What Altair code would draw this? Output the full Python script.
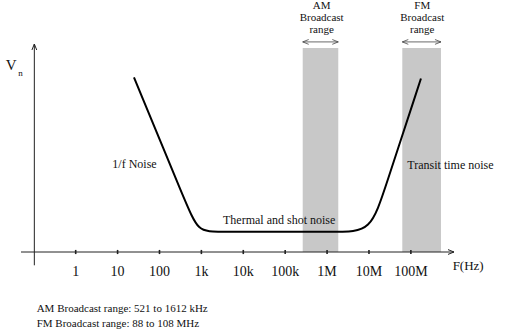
import altair as alt
import pandas as pd

FONT = "Liberation Serif"
INK = "#111111"

# ---- data ----
# noise curve control points (frequency in Hz, relative noise voltage)
curve_f = [24.6, 429, 848, 2230, 2.03e6, 1.10e7, 2.41e7, 1.74e8]
curve_v = [84.0, 23.4, 9.7, 9.7, 9.7, 9.7, 30.6, 83.4]

# broadcast bands (as drawn)
band_names = ["AM", "FM"]
band_lo = [2.62e5, 6.24e7]
band_hi = [1.85e6, 5.23e8]
band_top = 98.1
arrow_v = 101

# axis ticks
tick_values = [1, 10, 100, 1e3, 1e4, 1e5, 1e6, 1e7, 1e8]
tick_labels = ["1", "10", "100", "1k", "10k", "100k", "1M", "10M", "100M"]
tick_label_v = -9.6

# axis extents
x_start, x_end = 0.0495, 1.07e9
y_axis_f = 0.103
y_start, y_end = -6.4, 100

# annotations (centered)
ann_text = ["V", "n", "1/f Noise", "Thermal and shot noise", "Transit time noise",
            "AM", "Broadcast", "range", "FM", "Broadcast", "range", "F(Hz)"]
ann_f = [0.029, 0.0482, 25.3, 71900, 8.81e8,
         7.43e5, 7.43e5, 7.43e5, 1.87e8, 1.87e8, 1.87e8, 2.33e9]
ann_v = [87.4, 84.6, 40.2, 13.7, 40.0,
         116.9, 111.2, 105.4, 116.9, 111.2, 105.4, -8.7]
ann_size = [15, 9, 12, 12, 12, 11, 11, 11, 11, 11, 11, 13]

# footnotes (left aligned)
note_text = ["AM Broadcast range: 521 to 1612 kHz", "FM Broadcast range: 88 to 108 MHz"]
note_f = [0.117, 0.117]
note_v = [-27.6, -34.8]

# ---- build ----
xs = alt.Scale(type="log", domain=[x_start, x_end], nice=False)
ys = alt.Scale(domain=[0, 100], nice=False, zero=False)

curve_df = pd.DataFrame({"f": curve_f, "v": curve_v})
band_df = pd.DataFrame({"name": band_names, "lo": band_lo, "hi": band_hi,
                        "top": [band_top] * 2, "bot": [0] * 2, "av": [arrow_v] * 2})
tick_df = pd.DataFrame({"f": tick_values, "label": tick_labels,
                        "lv": [tick_label_v] * len(tick_values),
                        "a": [-1] * len(tick_values), "b": [1] * len(tick_values)})
ann_df = pd.DataFrame({"t": ann_text, "f": ann_f, "v": ann_v, "s": ann_size})
note_df = pd.DataFrame({"t": note_text, "f": note_f, "v": note_v})
xaxis_df = pd.DataFrame({"f0": [x_start], "f1": [x_end], "v": [0]})
yaxis_df = pd.DataFrame({"f": [y_axis_f], "v0": [y_start], "v1": [y_end]})

X = lambda fld: alt.X(fld, type="quantitative", scale=xs, axis=None)
Y = lambda fld: alt.Y(fld, type="quantitative", scale=ys, axis=None)

bands = alt.Chart(band_df).mark_rect(color="#c8c8c8").encode(
    x=X("lo"), x2="hi", y=Y("top"), y2="bot")

band_arrow = alt.Chart(band_df).mark_rule(color="#444444", strokeWidth=0.8).encode(
    x=X("lo"), x2="hi", y=Y("av"))
band_arrow_l = alt.Chart(band_df).mark_point(
    shape="M2,-0.8L0,0L2,0.8", size=36, filled=False, color="#444444", strokeWidth=0.8,
    opacity=1).encode(x=X("lo"), y=Y("av"))
band_arrow_r = alt.Chart(band_df).mark_point(
    shape="M-2,-0.8L0,0L-2,0.8", size=36, filled=False, color="#444444", strokeWidth=0.8,
    opacity=1).encode(x=X("hi"), y=Y("av"))

xaxis = alt.Chart(xaxis_df).mark_rule(color="#222222", strokeWidth=1).encode(
    x=X("f0"), x2="f1", y=Y("v"))
xarrow = alt.Chart(xaxis_df).mark_point(
    shape="M-2,-0.8L0,0L-2,0.8", size=36, filled=False, color="#222222", strokeWidth=1,
    opacity=1).encode(x=X("f1"), y=Y("v"))
yaxis = alt.Chart(yaxis_df).mark_rule(color="#222222", strokeWidth=1).encode(
    x=X("f"), y=Y("v0"), y2="v1")
yarrow = alt.Chart(yaxis_df).mark_point(
    shape="M-0.8,2L0,0L0.8,2", size=36, filled=False, color="#222222", strokeWidth=1,
    opacity=1).encode(x=X("f"), y=Y("v1"))

ticks = alt.Chart(tick_df).mark_rule(color="#222222", strokeWidth=1.6).encode(
    x=X("f"), y=Y("a"), y2="b")
tick_text = alt.Chart(tick_df).mark_text(font=FONT, fontSize=14, color=INK,
                                         baseline="middle").encode(
    x=X("f"), y=Y("lv"), text="label")

curve = alt.Chart(curve_df).mark_line(color="#000000", strokeWidth=2,
                                      interpolate="basis").encode(
    x=X("f"), y=Y("v"))

ann = alt.Chart(ann_df).mark_text(font=FONT, color=INK, align="center",
                                  baseline="alphabetic").encode(
    x=X("f"), y=Y("v"), text="t", size=alt.Size("s", type="quantitative", scale=None))

notes = alt.Chart(note_df).mark_text(font=FONT, fontSize=11, color=INK, align="left",
                                     baseline="middle").encode(
    x=X("f"), y=Y("v"), text="t")

chart = alt.layer(bands, band_arrow, band_arrow_l, band_arrow_r, xaxis, xarrow,
                  yaxis, yarrow, ticks, tick_text, curve, ann, notes).properties(
    width=433, height=208,
    background="white",
    autosize=alt.AutoSizeParams(type="none"),
    padding={"left": 21, "top": 44, "right": 65, "bottom": 78},
).configure_view(stroke=None, strokeWidth=0)

chart.save("out.html", embed_options={"renderer": "svg", "actions": False})
